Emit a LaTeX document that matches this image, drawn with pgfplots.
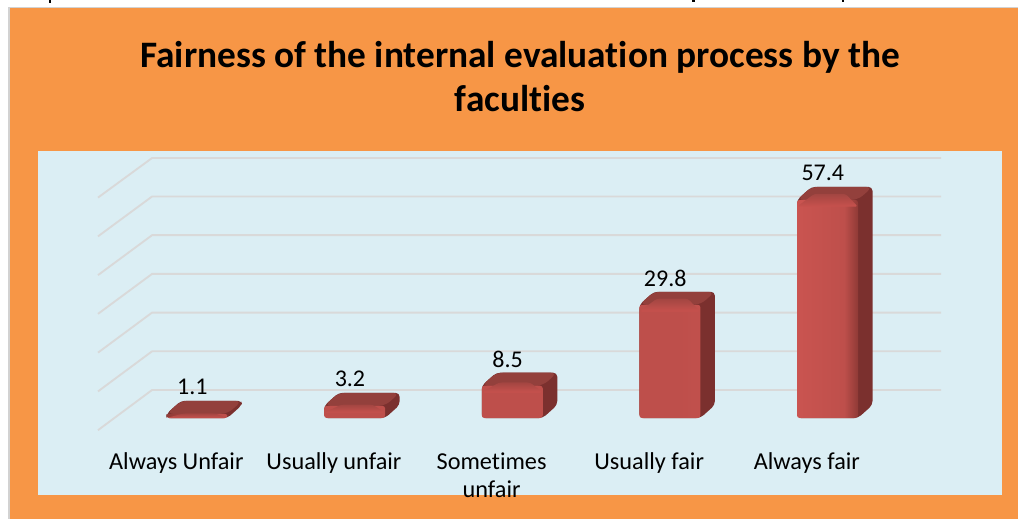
\documentclass[border=0pt]{standalone}
\usepackage{fontspec}
\setmainfont[Ligatures=NoCommon]{Carlito}
\usepackage{pgfplots}
\pgfplotsset{compat=1.18}
\definecolor{orangebg}{HTML}{F79646}
\definecolor{panel}{HTML}{DBEEF4}
\definecolor{gridc}{HTML}{D9D9D9}
\definecolor{sidec}{HTML}{7B302E}
\definecolor{topback}{HTML}{93403C}
\definecolor{topfront}{HTML}{C8524E}
\definecolor{faceedge}{HTML}{8F3A36}
\definecolor{facemain}{HTML}{BE4F4B}
\definecolor{facelight}{HTML}{CC5551}
\pgfdeclarehorizontalshading{barface}{100bp}{
 color(0bp)=(faceedge);
 color(25bp)=(faceedge);
 color(28bp)=(facemain);
 color(62bp)=(facemain);
 color(70bp)=(facelight);
 color(74bp)=(facemain);
 color(75bp)=(faceedge);
 color(100bp)=(faceedge)}
\pgfmathsetmacro{\hw}{0.1935}
\pgfmathsetmacro{\dx}{0.092}
\pgfmathsetmacro{\dy}{3.42}
\newcommand{\barbox}[2]{%
 \pgfmathsetmacro{\xa}{#1-\hw}\pgfmathsetmacro{\xb}{#1+\hw}%
 \pgfmathsetmacro{\xc}{#1+\hw+\dx}\pgfmathsetmacro{\xd}{#1-\hw+\dx}%
 \pgfmathsetmacro{\yt}{#2}\pgfmathsetmacro{\yb}{#2+\dy}%
 \addplot[forget plot,draw=none,fill=sidec,rounded corners=3pt] coordinates {(\xa,\yt) (\xd,\yb) (\xc,\yb) (\xc,\dy) (\xb,0) (\xa,0)} -- cycle;
 \addplot[forget plot,draw=none,fill=topback,rounded corners=5pt] coordinates {(\xa,\yt) (\xd,\yb) (\xc,\yb) (\xb,\yt)} -- cycle;
}
\newcommand{\barbevel}[2]{%
 \pgfmathsetmacro{\xa}{#1-\hw}\pgfmathsetmacro{\xb}{#1+\hw}%
 \pgfmathsetmacro{\xg}{#1-\hw+0.11}\pgfmathsetmacro{\xh}{#1+\hw-0.08}%
 \pgfmathsetmacro{\ym}{min(#2+1.6,1.1*#2)}\pgfmathsetmacro{\yf}{max(#2-1.8,0)}%
 \addplot[forget plot,draw=none,top color=topback!70!topfront,bottom color=topfront,rounded corners=2pt] coordinates {(\xa,\yf) (\xg,\ym) (\xh,\ym) (\xb,\yf)} -- cycle;
}
\pgfplotstableread{
x v
0 1.1
1 3.2
2 8.5
3 29.8
4 57.4
}\bardata
\begin{document}
\begin{tikzpicture}[x=1pt,y=1pt]
\fill[white] (0,0) rectangle (763.5,389.25);
\fill[gray!35] (6,0) rectangle (763.5,384);
\fill[orangebg] (7.5,0) rectangle (763.5,383.25);
\fill[panel] (28.5,18) rectangle (751.5,276.2);
\fill[black] (36.7,389.25) rectangle (38.5,387);
\fill[black] (519.2,389.25) rectangle (521,387.5);
\fill[black] (631.5,389.25) rectangle (633.2,387.5);
\node[font=\bfseries\fontsize{28}{33}\selectfont,align=center,anchor=center] at (390,332) {Fairness of the internal evaluation process by the\\faculties};
\begin{axis}[
 at={(73.5pt,75.75pt)},anchor=south west,
 scale only axis,width=632.25pt,height=195pt,
 xmin=-0.628,xmax=4.72,ymin=0,ymax=68.42,
 clip=false,axis line style={draw=none},
 tick style={draw=none},ytick=\empty,
 xtick={0,1,2,3,4},
 xticklabels={Always Unfair,Usually unfair,Sometimes\\unfair,Usually fair,Always fair},
 xticklabel style={font=\fontsize{18.2}{21}\selectfont,align=center,anchor=north,xshift=-15.5pt,yshift=-22.5pt},
 /pgf/number format/.cd,fixed,fixed zerofill,precision=1,assume math mode=true,
]
\addplot[forget plot,gridc,line width=1.4pt] coordinates {(-0.628,-3.2) (-0.285,7.37) (4.72,7.37)};
\addplot[forget plot,gridc,line width=1.4pt] coordinates {(-0.628,7.0) (-0.285,17.55) (4.72,17.55)};
\addplot[forget plot,gridc,line width=1.4pt] coordinates {(-0.628,17.2) (-0.285,27.74) (4.72,27.74)};
\addplot[forget plot,gridc,line width=1.4pt] coordinates {(-0.628,27.4) (-0.285,37.92) (4.72,37.92)};
\addplot[forget plot,gridc,line width=1.4pt] coordinates {(-0.628,37.6) (-0.285,48.11) (4.72,48.11)};
\addplot[forget plot,gridc,line width=1.4pt] coordinates {(-0.628,47.8) (-0.285,58.29) (4.72,58.29)};
\addplot[forget plot,gridc,line width=1.4pt] coordinates {(-0.628,58.0) (-0.285,68.42) (4.72,68.42)};
\barbox{0}{1.1}\barbox{1}{3.2}\barbox{2}{8.5}\barbox{3}{29.8}\barbox{4}{57.4}
\addplot[ybar,bar width=45.75pt,bar shift=0pt,draw=none,shade,shading=barface,rounded corners=2pt,
 nodes near coords,every node near coord/.append style={anchor=center,xshift=-3.5pt,yshift=20pt,font=\fontsize{18}{20}\selectfont,text=black}]
 table[x=x,y=v]{\bardata};
\barbevel{0}{1.1}\barbevel{1}{3.2}\barbevel{2}{8.5}\barbevel{3}{29.8}\barbevel{4}{57.4}
\end{axis}
\end{tikzpicture}
\end{document}
